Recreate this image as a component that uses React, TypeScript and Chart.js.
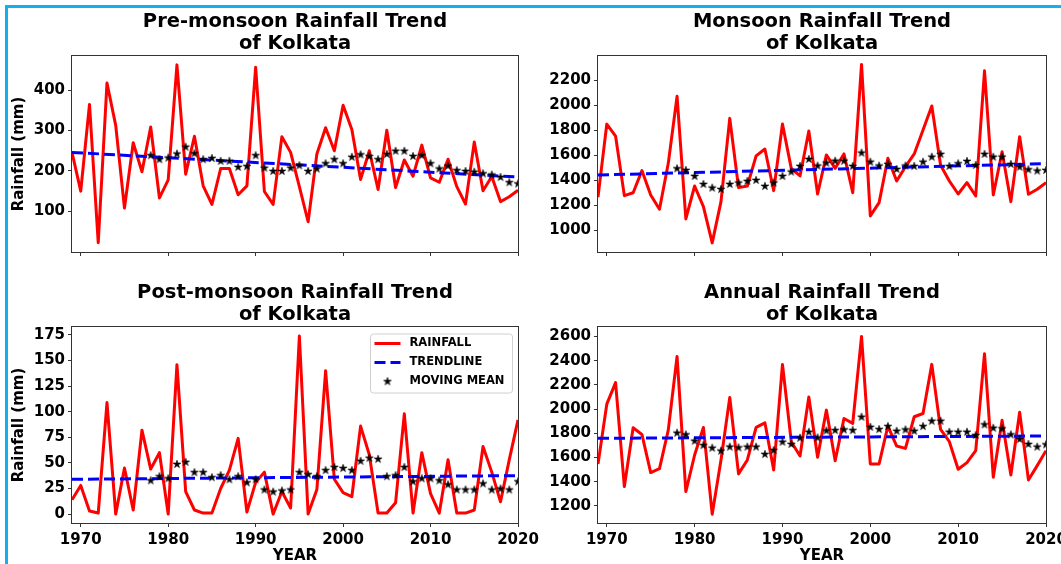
import React, { useEffect, useRef } from "react";
import { Chart, registerables } from "chart.js";

Chart.register(...registerables);

const FONT = "'DejaVu Sans', 'Liberation Sans', Arial, sans-serif";

const years = [
  1969, 1970, 1971, 1972, 1973, 1974, 1975, 1976, 1977, 1978, 1979, 1980, 1981,
  1982, 1983, 1984, 1985, 1986, 1987, 1988, 1989, 1990, 1991, 1992, 1993, 1994,
  1995, 1996, 1997, 1998, 1999, 2000, 2001, 2002, 2003, 2004, 2005, 2006, 2007,
  2008, 2009, 2010, 2011, 2012, 2013, 2014, 2015, 2016, 2017, 2018, 2019, 2020,
];
const movingYears = [
  1978, 1979, 1980, 1981, 1982, 1983, 1984, 1985, 1986, 1987, 1988, 1989, 1990,
  1991, 1992, 1993, 1994, 1995, 1996, 1997, 1998, 1999, 2000, 2001, 2002, 2003,
  2004, 2005, 2006, 2007, 2008, 2009, 2010, 2011, 2012, 2013, 2014, 2015, 2016,
  2017, 2018, 2019, 2020,
];
const trendYears = [1969, 2020];
const xTicks = [1970, 1980, 1990, 2000, 2010, 2020];

// Pre-monsoon
const preRain = [
  246, 150, 365, 22, 418, 313, 108, 270, 198, 309, 133, 178, 463,
  192, 286, 163, 117, 206, 206, 141, 163, 457, 149, 117, 285, 246,
  161, 74, 242, 307, 250, 363, 303, 179, 250, 154, 301, 159, 227,
  187, 264, 183, 172, 229, 161, 118, 272, 151, 186, 124, 136, 152,
];
const preMoving = [
  239, 229, 233, 243, 260, 244, 229, 232, 225, 225,
  210, 212, 239, 208, 200, 200, 208, 214, 200, 206,
  219, 229, 219, 235, 241, 237, 229, 242, 250, 250,
  237, 239, 219, 206, 213, 202, 200, 198, 194, 191,
  185, 172, 169,
];
const preTrend = [246, 185];
const preTicks = [100, 200, 300, 400];

// Monsoon
const monRain = [
  1265, 1848, 1753, 1277, 1300, 1477, 1282, 1168, 1535, 2070, 1091, 1354, 1189,
  900, 1229, 1894, 1341, 1354, 1594, 1649, 1317, 1849, 1495, 1434, 1793, 1290,
  1602, 1495, 1610, 1301, 2325, 1115, 1221, 1575, 1394, 1508, 1610, 1801, 1993,
  1520, 1394, 1290, 1381, 1274, 2274, 1282, 1628, 1229, 1748, 1288, 1328, 1381,
];
const monMoving = [
  1495, 1482, 1434, 1370, 1341, 1330, 1370, 1381, 1394, 1402,
  1354, 1381, 1434, 1469, 1514, 1570, 1517, 1540, 1556, 1556,
  1514, 1620, 1548, 1517, 1530, 1490, 1517, 1514, 1548, 1588,
  1610, 1514, 1535, 1554, 1522, 1610, 1588, 1588, 1530, 1508,
  1487, 1477, 1482,
];
const monTrend = [1442, 1532];
const monTicks = [1000, 1200, 1400, 1600, 1800, 2000, 2200];

// Post-monsoon
const postRain = [
  14, 28, 3, 1, 109, 0, 45, 4, 82, 44, 60, 0, 146,
  22, 4, 1, 1, 25, 43, 74, 2, 31, 41, 0, 22, 6,
  174, 0, 24, 140, 34, 21, 17, 86, 58, 1, 1, 11, 98,
  1, 60, 20, 1, 53, 1, 1, 4, 66, 41, 12, 53, 92,
];
const postMoving = [
  33, 37, 35, 49, 51, 41, 41, 36, 38, 34,
  37, 31, 34, 24, 22, 23, 24, 41, 39, 37,
  43, 46, 45, 43, 52, 55, 54, 37, 38, 46,
  32, 35, 35, 33, 29, 24, 24, 24, 30, 24,
  25, 24, 32,
];
const postTrend = [34, 37.6];
const postTicks = [0, 25, 50, 75, 100, 125, 150, 175];

// Annual
const annRain = [
  1546, 2040, 2218, 1359, 1845, 1790, 1475, 1507, 1826, 2435, 1318, 1620, 1848,
  1131, 1579, 2095, 1464, 1579, 1848, 1886, 1497, 2369, 1730, 1612, 2100, 1601,
  1991, 1573, 1922, 1881, 2600, 1546, 1546, 1859, 1694, 1675, 1936, 1963, 2369,
  1831, 1730, 1502, 1557, 1656, 2457, 1436, 1908, 1455, 1974, 1414, 1532, 1656,
];
const annMoving = [
  1804, 1790, 1738, 1702, 1680, 1656, 1689, 1683, 1689, 1689,
  1628, 1661, 1730, 1711, 1763, 1812, 1765, 1823, 1826, 1831,
  1826, 1936, 1853, 1834, 1859, 1820, 1831, 1820, 1859, 1903,
  1903, 1812, 1812, 1812, 1785, 1873, 1845, 1840, 1790, 1752,
  1711, 1689, 1708,
];
const annTrend = [1758, 1777];
const annTicks = [1200, 1400, 1600, 1800, 2000, 2200, 2400, 2600];

const legendLabels = ["RAINFALL", "TRENDLINE", "MOVING MEAN"];

function makeStar(): HTMLCanvasElement {
  const c = document.createElement("canvas");
  c.width = 10;
  c.height = 10;
  const ctx = c.getContext("2d")!;
  const cx = 5, cy = 5.3, ro = 4.1, ri = 4.1 * 0.382;
  ctx.beginPath();
  for (let k = 0; k < 10; k++) {
    const r = k % 2 === 0 ? ro : ri;
    const a = -Math.PI / 2 + (k * Math.PI) / 5;
    const px = cx + r * Math.cos(a);
    const py = cy + r * Math.sin(a);
    if (k === 0) ctx.moveTo(px, py);
    else ctx.lineTo(px, py);
  }
  ctx.closePath();
  ctx.fillStyle = "#000";
  ctx.fill();
  ctx.lineWidth = 0.6;
  ctx.strokeStyle = "#000";
  ctx.stroke();
  return c;
}

type PanelProps = {
  left: number;
  top: number;
  width: number;
  height: number;
  axisW: number;
  padRight: number;
  padTop: number;
  xAxisH: number;
  titleLines: string[];
  titleYs: number[];
  rain: number[];
  moving: number[];
  trend: number[];
  yMin: number;
  yMax: number;
  yTicks: number[];
  xLabels: boolean;
  yTitle: boolean;
  legend: boolean;
};

function Panel(p: PanelProps) {
  const ref = useRef<HTMLCanvasElement>(null);
  useEffect(() => {
    const canvas = ref.current;
    if (!canvas) return;
    const star = makeStar();

    const framePlugin = {
      id: "frame",
      afterDatasetsDraw(chart: any) {
        const { ctx, chartArea } = chart;
        const l = Math.round(chartArea.left) - 0.5;
        const t = Math.round(chartArea.top) - 0.5;
        const r = Math.round(chartArea.right) + 0.5;
        const b = Math.round(chartArea.bottom) + 0.5;
        ctx.save();
        ctx.strokeStyle = "#333";
        ctx.lineWidth = 1;
        ctx.strokeRect(l, t, r - l, b - t);
        ctx.restore();
      },
    };

    const titlePlugin = {
      id: "twoLineTitle",
      afterDraw(chart: any) {
        const { ctx, chartArea } = chart;
        const cx = (chartArea.left + chartArea.right) / 2;
        ctx.save();
        ctx.fillStyle = "#000";
        ctx.font = `bold 19.5px ${FONT}`;
        ctx.textAlign = "center";
        ctx.textBaseline = "middle";
        p.titleLines.forEach((line, i) => ctx.fillText(line, cx, p.titleYs[i]));
        ctx.restore();
      },
    };

    const legendPlugin = {
      id: "boxLegend",
      afterDraw(chart: any) {
        if (!p.legend) return;
        const { ctx, chartArea } = chart;
        const bl = chartArea.right - 147.5;
        const bt = chartArea.top + 7;
        const bw = 142;
        const bh = 59;
        const rad = 3;
        ctx.save();
        ctx.beginPath();
        ctx.moveTo(bl + rad, bt);
        ctx.lineTo(bl + bw - rad, bt);
        ctx.arcTo(bl + bw, bt, bl + bw, bt + rad, rad);
        ctx.lineTo(bl + bw, bt + bh - rad);
        ctx.arcTo(bl + bw, bt + bh, bl + bw - rad, bt + bh, rad);
        ctx.lineTo(bl + rad, bt + bh);
        ctx.arcTo(bl, bt + bh, bl, bt + bh - rad, rad);
        ctx.lineTo(bl, bt + rad);
        ctx.arcTo(bl, bt, bl + rad, bt, rad);
        ctx.closePath();
        ctx.fillStyle = "rgba(255,255,255,0.85)";
        ctx.fill();
        ctx.strokeStyle = "#d0d0d0";
        ctx.lineWidth = 1;
        ctx.stroke();

        const ys = [bt + 9.5, bt + 28.5, bt + 47.5];
        ctx.beginPath();
        ctx.strokeStyle = "#ff0000";
        ctx.lineWidth = 3;
        ctx.moveTo(bl + 4, ys[0]);
        ctx.lineTo(bl + 30, ys[0]);
        ctx.stroke();
        ctx.beginPath();
        ctx.strokeStyle = "#0000ff";
        ctx.setLineDash([11, 5]);
        ctx.moveTo(bl + 4, ys[1]);
        ctx.lineTo(bl + 30, ys[1]);
        ctx.stroke();
        ctx.setLineDash([]);
        ctx.drawImage(star, bl + 17 - 5, ys[2] - 5.3);

        ctx.fillStyle = "#000";
        ctx.font = `bold 11.5px ${FONT}`;
        ctx.textAlign = "left";
        ctx.textBaseline = "middle";
        legendLabels.forEach((lab, i) => ctx.fillText(lab, bl + 39, ys[i]));
        ctx.restore();
      },
    };

    const tickFont = { family: FONT, size: 15, weight: "bold" as const, lineHeight: 1.2 };

    const chart = new Chart(canvas, {
      type: "line",
      data: {
        datasets: [
          {
            label: "RAINFALL",
            data: years.map((x, i) => ({ x, y: p.rain[i] })),
            borderColor: "#ff0000",
            backgroundColor: "#ff0000",
            borderWidth: 3,
            pointRadius: 0,
            fill: false,
            tension: 0,
            borderJoinStyle: "round",
            order: 3,
            clip: 0,
          },
          {
            label: "TRENDLINE",
            data: trendYears.map((x, i) => ({ x, y: p.trend[i] })),
            borderColor: "#0000ff",
            backgroundColor: "#0000ff",
            borderWidth: 3,
            borderDash: [11, 5],
            pointRadius: 0,
            fill: false,
            order: 2,
            clip: 0,
          },
          {
            label: "MOVING MEAN",
            data: movingYears.map((x, i) => ({ x, y: p.moving[i] })),
            showLine: false,
            pointStyle: star,
            pointRadius: 4,
            backgroundColor: "#000",
            borderColor: "#000",
            order: 1,
            clip: 0,
          },
        ],
      } as any,
      options: {
        responsive: false,
        animation: false,
        devicePixelRatio: 1,
        events: [],
        layout: { padding: { left: 0, right: p.padRight, top: p.padTop, bottom: 0 } },
        plugins: {
          legend: { display: false },
          tooltip: { enabled: false },
          title: { display: false },
        },
        scales: {
          x: {
            type: "linear",
            min: 1969,
            max: 2020,
            afterBuildTicks: (s: any) => {
              s.ticks = xTicks.map((v) => ({ value: v }));
            },
            afterFit: (s: any) => {
              s.height = p.xAxisH;
            },
            grid: {
              display: true,
              drawOnChartArea: false,
              drawTicks: true,
              tickLength: 4,
              color: "#333",
              lineWidth: 1,
            },
            border: { display: false },
            ticks: {
              display: p.xLabels,
              color: "#000",
              font: tickFont,
              padding: 4,
              maxRotation: 0,
              autoSkip: false,
              callback: (v: any) => String(v),
            },
            title: {
              display: p.xLabels,
              text: "YEAR",
              color: "#000",
              font: { family: FONT, size: 15, weight: "bold", lineHeight: 1.1 },
              padding: { top: 0, bottom: 0 },
            },
          },
          y: {
            type: "linear",
            min: p.yMin,
            max: p.yMax,
            afterBuildTicks: (s: any) => {
              s.ticks = p.yTicks.map((v) => ({ value: v }));
            },
            afterFit: (s: any) => {
              s.width = p.axisW;
            },
            grid: {
              display: true,
              drawOnChartArea: false,
              drawTicks: true,
              tickLength: 4,
              color: "#333",
              lineWidth: 1,
            },
            border: { display: false },
            ticks: {
              color: "#000",
              font: tickFont,
              padding: 3,
              autoSkip: false,
              callback: (v: any) => String(v),
            },
            title: {
              display: p.yTitle,
              text: "Rainfall (mm)",
              color: "#000",
              font: { family: FONT, size: 15, weight: "bold", lineHeight: 1.2 },
              padding: { top: 10.5, bottom: 0 },
            },
          },
        },
      } as any,
      plugins: [framePlugin, titlePlugin, legendPlugin],
    });
    return () => chart.destroy();
  }, []);

  return (
    <canvas
      ref={ref}
      width={p.width}
      height={p.height}
      style={{ position: "absolute", left: p.left, top: p.top, width: p.width, height: p.height }}
    />
  );
}

export default function App() {
  return (
    <div
      style={{
        position: "fixed",
        left: 0,
        top: 0,
        width: 1061,
        height: 564,
        overflow: "hidden",
        background: "#ffffff",
      }}
    >
      <div
        style={{
          position: "absolute",
          left: 5,
          top: 5,
          width: 1100,
          height: 600,
          borderLeft: "3px solid #12b0ec",
          borderTop: "3px solid #12b0ec",
        }}
      />
      <Panel
        left={0} top={0} width={545} height={270}
        axisW={72} padRight={27} padTop={56} xAxisH={18}
        titleLines={["Pre-monsoon Rainfall Trend", "of Kolkata"]} titleYs={[22, 44]}
        rain={preRain} moving={preMoving} trend={preTrend}
        yMin={-1} yMax={485} yTicks={preTicks}
        xLabels={false} yTitle={true} legend={false}
      />
      <Panel
        left={530} top={0} width={560} height={270}
        axisW={68} padRight={44} padTop={56} xAxisH={18}
        titleLines={["Monsoon Rainfall Trend", "of Kolkata"]} titleYs={[22, 44]}
        rain={monRain} moving={monMoving} trend={monTrend}
        yMin={827} yMax={2392} yTicks={monTicks}
        xLabels={false} yTitle={false} legend={false}
      />
      <Panel
        left={0} top={270} width={545} height={294}
        axisW={72} padRight={27} padTop={57} xAxisH={41}
        titleLines={["Post-monsoon Rainfall Trend", "of Kolkata"]} titleYs={[23, 45]}
        rain={postRain} moving={postMoving} trend={postTrend}
        yMin={-8.7} yMax={182.8} yTicks={postTicks}
        xLabels={true} yTitle={true} legend={true}
      />
      <Panel
        left={530} top={270} width={560} height={294}
        axisW={68} padRight={44} padTop={57} xAxisH={41}
        titleLines={["Annual Rainfall Trend", "of Kolkata"]} titleYs={[23, 45]}
        rain={annRain} moving={annMoving} trend={annTrend}
        yMin={1058} yMax={2678} yTicks={annTicks}
        xLabels={true} yTitle={false} legend={false}
      />
    </div>
  );
}
